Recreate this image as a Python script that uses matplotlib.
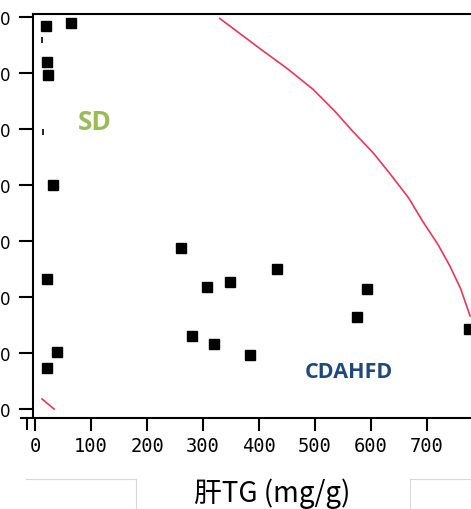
import matplotlib.pyplot as plt
from matplotlib.lines import Line2D

# SD group (low liver TG)
sd_tg = [19, 64, 21, 24, 33, 21, 40, 21]
sd_y = [6.83, 6.89, 6.2, 5.96, 4.0, 2.32, 1.02, 0.74]
# tiny marks near the axis
tiny_tg = [12.5, 13.8]
tiny_y = [6.59, 4.95]

# CDAHFD group
cd_tg = [261, 307, 348, 432, 280, 320, 384, 575, 593, 775]
cd_y = [2.88, 2.18, 2.27, 2.5, 1.30, 1.16, 0.96, 1.64, 2.14, 1.43]

# red curve
curve_x = [330, 402, 450, 496, 535, 568, 605, 637, 667, 693, 720, 741, 760, 777]
curve_y = [6.97, 6.43, 6.08, 5.71, 5.32, 4.95, 4.56, 4.16, 3.77, 3.34, 2.93, 2.55, 2.15, 1.66]
curve2_x = [12.5, 34]
curve2_y = [0.18, 0.0]

xticks = [0, 100, 200, 300, 400, 500, 600, 700]
yticks = [0, 1, 2, 3, 4, 5, 6, 7]


def main():
    fig = plt.figure(figsize=(4.71, 5.10), dpi=100)
    ax = fig.add_axes([33 / 471, 91 / 510, 438 / 471, 404 / 510])

    red = '#e8375a'
    ax.plot(curve_x, curve_y, color=red, lw=1.2)
    ax.plot(curve2_x, curve2_y, color=red, lw=1.2)
    ax.plot(sd_tg, sd_y, 's', color='black', ms=7.8, mec='black')
    ax.plot(cd_tg, cd_y, 's', color='black', ms=7.8, mec='black')
    ax.plot(tiny_tg, tiny_y, '|', color='black', ms=4, mew=1.2)

    ax.set_xlim(-3.6, 778.6)
    ax.set_ylim(-0.16, 7.05)

    ax.spines['right'].set_visible(False)
    for s in ['top', 'left', 'bottom']:
        ax.spines[s].set_linewidth(1.5)
    ax.spines['bottom'].set_bounds(-25, 778.6)

    ax.set_xticks(xticks)
    ax.set_xticklabels([str(t) for t in xticks], family='DejaVu Sans Mono', fontsize=13.5)
    ax.set_yticks(yticks)
    ax.set_yticklabels(['0'] * len(yticks), family='DejaVu Sans', fontsize=12)
    ax.tick_params(axis='x', direction='out', length=9, width=1.5, pad=4)
    ax.tick_params(axis='y', direction='out', length=10, width=1.5, pad=6)

    ax.text(107, 5.14, 'SD', color='#9bbb59', fontsize=19, fontweight='bold',
            family='Open Sans', ha='center', va='center')
    ax.text(560, 0.67, 'CDAHFD', color='#1f497d', fontsize=15.5, fontweight='bold',
            family='Open Sans', ha='center', va='center')

    fig.text(272 / 471, 1 - 494 / 510, '肝TG (mg/g)', fontsize=20,
             family=['Noto Sans CJK JP', 'DejaVu Sans'], ha='center', va='center')

    # extra left tick and faint text box border
    fig.add_artist(Line2D([27 / 471, 27 / 471], [1 - 419 / 510, 1 - 430 / 510],
                          color='black', lw=1.5))
    grey = '#d9d9d9'
    fig.add_artist(Line2D([26 / 471, 136 / 471], [1 - 480 / 510, 1 - 480 / 510], color=grey, lw=0.8))
    fig.add_artist(Line2D([410 / 471, 1.0], [1 - 480 / 510, 1 - 480 / 510], color=grey, lw=0.8))
    fig.add_artist(Line2D([136 / 471, 136 / 471], [1 - 480 / 510, 0], color=grey, lw=0.8))
    fig.add_artist(Line2D([410 / 471, 410 / 471], [1 - 480 / 510, 0], color=grey, lw=0.8))

    plt.savefig('out.png', dpi=100)


if __name__ == '__main__':
    main()
